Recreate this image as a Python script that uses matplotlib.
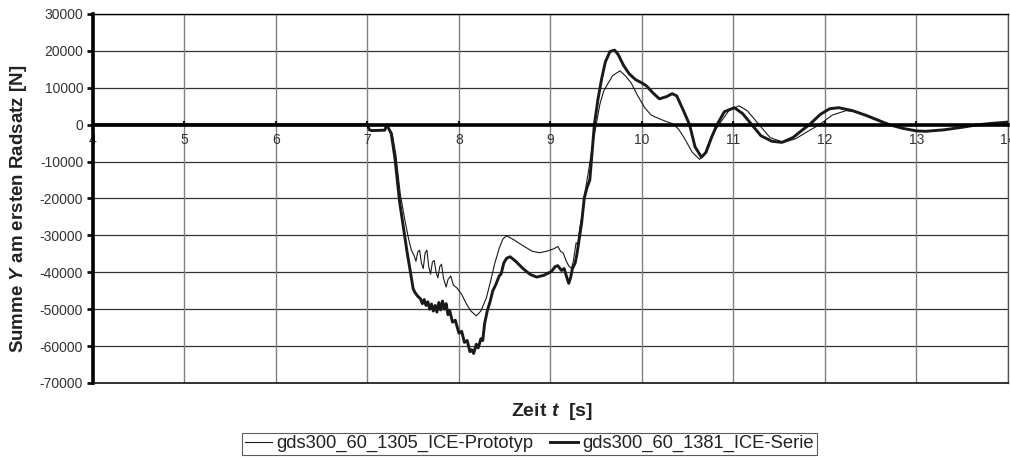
import matplotlib
matplotlib.use("Agg")
import matplotlib.pyplot as plt

plt.rcParams['font.family'] = ['Liberation Sans', 'DejaVu Sans']
plt.rcParams['mathtext.fontset'] = 'custom'
plt.rcParams['mathtext.it'] = 'Liberation Sans:italic:bold'
plt.rcParams['mathtext.rm'] = 'Liberation Sans:bold'

# Series: gds300_60_1381_ICE-Serie (thick line)
t_serie = [4.0, 7.0, 7.02, 7.05, 7.19, 7.21, 7.26, 7.30, 7.35, 7.40, 7.43, 7.47, 7.50, 7.52,
           7.55, 7.58, 7.60, 7.62, 7.64, 7.66, 7.68, 7.70, 7.72, 7.74, 7.76, 7.78, 7.80, 7.82,
           7.84, 7.86, 7.88, 7.90, 7.93, 7.96, 8.00, 8.03, 8.06, 8.09, 8.12, 8.14, 8.16, 8.19,
           8.21, 8.24, 8.26, 8.28, 8.31, 8.34, 8.37, 8.40, 8.44, 8.46, 8.49, 8.52, 8.56, 8.62,
           8.70, 8.78, 8.85, 8.93, 9.01, 9.05, 9.08, 9.12, 9.15, 9.18, 9.20, 9.22, 9.24, 9.27,
           9.29, 9.32, 9.34, 9.37, 9.40, 9.43, 9.46, 9.48, 9.52, 9.56, 9.60, 9.65, 9.70, 9.74,
           9.80, 9.86, 9.93, 10.00, 10.05, 10.12, 10.19, 10.27, 10.33, 10.38, 10.45, 10.52,
           10.58, 10.65, 10.70, 10.76, 10.82, 10.90, 11.01, 11.10, 11.20, 11.30, 11.42, 11.53,
           11.65, 11.75, 11.83, 11.95, 12.05, 12.15, 12.30, 12.45, 12.60, 12.70, 12.85, 13.00,
           13.10, 13.30, 13.50, 13.65, 13.80, 14.00]
y_serie = [0, 0, -1400, -1600, -1500, 0, -2400, -9000, -20600, -29000, -34000, -40000, -44500, -45500,
           -46500, -47200, -48500, -47400, -49000, -48000, -50000, -48600, -50500, -49000, -50800, -48200, -50200, -47800,
           -50000, -48500, -51500, -50500, -53500, -53000, -56500, -56000, -59000, -58500, -61500, -61000, -62000, -59500,
           -60500, -58000, -58500, -54000, -50400, -48000, -45000, -43500, -41000, -40500, -37500, -36200, -35800, -37000,
           -39000, -40600, -41300, -40800, -39800, -38500, -38200, -39500, -39000, -41500, -43000, -41500, -39000, -37500,
           -35000, -30000, -26800, -19800, -17000, -15000, -6000, 0, 7000, 12500, 17000, 19800, 20200, 19000,
           16000, 13800, 12200, 11300, 10500, 8600, 7000, 7600, 8400, 7800, 4000, 0,
           -6000, -8800, -7500, -3500, 0, 3500, 4600, 3000, 0, -3000, -4500, -4800,
           -3500, -1500, 0, 2800, 4300, 4600, 3800, 2500, 1000, 0, -1000, -1700,
           -1800, -1400, -700, -100, 300, 700]

# Series: gds300_60_1305_ICE-Prototyp (thin line)
t_proto = [4.0, 7.0, 7.02, 7.05, 7.19, 7.21, 7.27, 7.31, 7.36, 7.41, 7.45, 7.48, 7.51, 7.53,
           7.55, 7.57, 7.59, 7.61, 7.63, 7.65, 7.67, 7.69, 7.71, 7.73, 7.75, 7.77, 7.79, 7.81,
           7.83, 7.86, 7.88, 7.91, 7.94, 7.98, 8.03, 8.08, 8.13, 8.19, 8.24, 8.30, 8.35, 8.39,
           8.44, 8.48, 8.52, 8.60, 8.70, 8.80, 8.88, 8.96, 9.04, 9.08, 9.11, 9.14, 9.17, 9.20,
           9.23, 9.25, 9.28, 9.30, 9.32, 9.35, 9.38, 9.42, 9.46, 9.50, 9.54, 9.58, 9.62, 9.68,
           9.76, 9.82, 9.88, 9.95, 10.03, 10.10, 10.19, 10.27, 10.33, 10.40, 10.46, 10.55, 10.63,
           10.68, 10.76, 10.84, 10.95, 11.06, 11.15, 11.28, 11.40, 11.55, 11.68, 11.80, 11.94,
           12.08, 12.23, 12.35, 12.50, 12.62, 12.72, 12.85, 13.00, 13.10, 13.30, 13.50, 13.65,
           13.80, 14.00]
y_proto = [0, 0, -1400, -1600, -1500, 0, -2400, -8000, -19000, -26000, -31000, -34000, -35500, -37000,
           -34500, -34000, -37500, -39000, -34800, -34000, -38500, -40500, -37200, -36800, -40000, -41500, -38500, -37800,
           -41500, -44000, -42000, -41000, -43500, -44300, -46000, -48500, -50500, -51800, -50500, -46900, -42000, -37700,
           -33500, -31000, -30100, -31200, -32800, -34300, -34700, -34300, -33600, -33000, -34300, -34800, -36800, -38300,
           -39000, -37000, -32000, -32500, -28000, -24100, -18000, -12000, -5500, 0, 5500, 9000, 10800, 13300,
           14600, 13200, 11400, 8000, 4600, 2600, 1600, 800, 300, -1200, -3500, -7500, -9400,
           -8200, -3000, 0, 3800, 5100, 3800, 0, -3500, -4800, -3800, -2000, 0,
           2600, 3800, 3500, 2200, 1000, 0, -1000, -1700, -1800, -1400, -700, -100,
           300, 600]

x_ticks = [4, 5, 6, 7, 8, 9, 10, 11, 12, 13, 14]
y_ticks = [30000, 20000, 10000, 0, -10000, -20000, -30000, -40000, -50000, -60000, -70000]

fig = plt.figure(figsize=(10.1, 4.59), dpi=100)
ax = fig.add_axes([0.092, 0.1656, 0.906, 0.804])

ax.set_xlim(4, 14)
ax.set_ylim(-70000, 30000)

# grid
for yt in y_ticks:
    ax.axhline(yt, color='#333333', lw=0.9, zorder=1)
for xt in x_ticks[1:]:
    ax.axvline(xt, color='#808080', lw=1.0, zorder=1)

l1, = ax.plot(t_proto, y_proto, color='#1a1a1a', lw=0.8, zorder=3,
              label='gds300_60_1305_ICE-Prototyp')
l2, = ax.plot(t_serie, y_serie, color='#1a1a1a', lw=2.1, zorder=4,
              label='gds300_60_1381_ICE-Serie')

# x axis crossing at zero
ax.spines['bottom'].set_position(('data', 0))
ax.spines['bottom'].set_linewidth(2.6)
ax.spines['bottom'].set_zorder(5)
ax.spines['left'].set_linewidth(2.6)
ax.spines['top'].set_linewidth(1.0)
ax.spines['right'].set_linewidth(1.0)
ax.spines['right'].set_color('#555555')
ax.axhline(-70000, color='#111111', lw=1.2, clip_on=False, zorder=5)

ax.set_xticks(x_ticks)
ax.set_xticklabels([str(v) for v in x_ticks])
ax.set_yticks(y_ticks)
ax.set_yticklabels([str(v) for v in y_ticks])
ax.tick_params(axis='x', direction='in', length=3, width=1.5, pad=6,
               labelsize=10, labelcolor='#333333', color='#111111')
ax.tick_params(axis='y', direction='out', length=4, width=2, pad=3,
               labelsize=10, labelcolor='#333333', color='#111111')

fig.text(0.5465, 0.104, r'Zeit $t$  [s]', ha='center', va='center',
         fontsize=14, fontweight='bold', color='#222222')
fig.text(0.018, 0.545, r'Summe $Y$ am ersten Radsatz [N]', ha='center', va='center',
         rotation=90, fontsize=13.5, fontweight='bold', color='#222222')

leg = fig.legend(handles=[l1, l2], loc='center', bbox_to_anchor=(0.524, 0.033),
                 ncol=2, frameon=True, fancybox=False, fontsize=13.2,
                 handlelength=1.5, handletextpad=0.25, columnspacing=0.9,
                 borderpad=0.15, borderaxespad=0)
leg.get_frame().set_edgecolor('#333333')
leg.get_frame().set_linewidth(0.8)
for txt in leg.get_texts():
    txt.set_color('#222222')

fig.savefig('out.png', dpi=100)
